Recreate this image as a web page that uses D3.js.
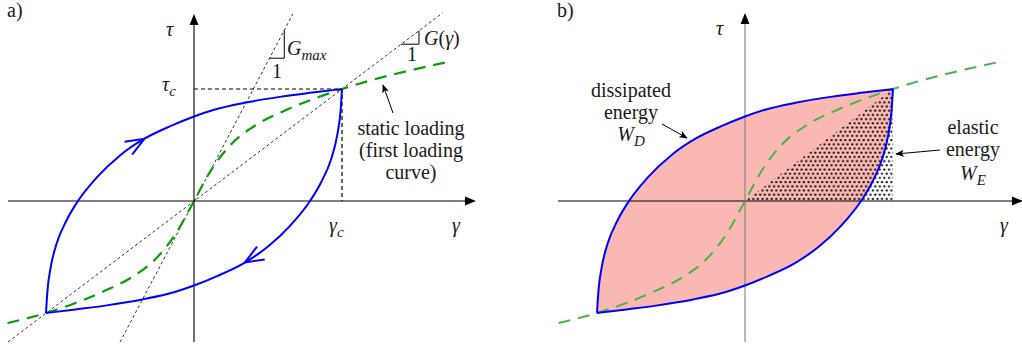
<!DOCTYPE html>
<html>
<head>
<meta charset="utf-8">
<script src="https://cdn.jsdelivr.net/npm/d3@7"></script>
<style>
body { margin: 0; background: #fff; }
text { font-family: "Liberation Serif", "DejaVu Serif", serif; fill: #1a1a1a; font-size: 20px; }
</style>
</head>
<body>
<div id="container"></div>
<script>
// hysteresis loop, normalised: gamma / gamma_c, tau / tau_c
const loadGamma = [-1, -0.99, -0.968, -0.928, -0.86, -0.784, -0.655, -0.5, -0.335, -0.16, 0, 0.13, 0.35, 0.59, 0.8, 1];
const loadTau   = [-1, -0.8, -0.59, -0.38, -0.17, 0, 0.213, 0.407, 0.556, 0.668, 0.755, 0.813, 0.879, 0.932, 0.968, 1];
const unloadGamma = [1, 0.99, 0.968, 0.928, 0.86, 0.784, 0.655, 0.5, 0.335, 0.16, 0, -0.13, -0.35, -0.59, -0.8, -1];
const unloadTau   = [1, 0.8, 0.59, 0.38, 0.17, 0, -0.213, -0.407, -0.556, -0.668, -0.755, -0.813, -0.879, -0.932, -0.968, -1];

// first loading (backbone) curve
const backboneGamma = [-1.26, -1, -0.8, -0.6, -0.42, -0.25, -0.12, 0, 0.12, 0.25, 0.42, 0.6, 0.8, 1, 1.71];
const backboneTau   = [-1.09, -1, -0.91, -0.8, -0.68, -0.505, -0.285, 0, 0.285, 0.505, 0.68, 0.8, 0.908, 1, 1.24];

// G_max tangent and G(gamma) secant
const gmaxGamma = [-0.5, 0.668];
const gmaxTau   = [-1.26, 1.67];
const secGamma  = [-1.257, 1.68];
const secTau    = [-1.259, 1.68];

// slope triangles
const gmaxTriGamma = [0.51, 0.61, 0.61];
const gmaxTriTau   = [1.275, 1.275, 1.525];
const secTriGamma  = [1.4, 1.52, 1.52];
const secTriTau    = [1.4, 1.4, 1.52];

// direction arrows on the loop (gamma positions)
const arrowLoad = -0.335, arrowUnload = 0.345;

// elastic energy triangle
const elasticGamma = [0, 1, 1];
const elasticTau   = [0, 1, 0];

const W = 1022, H = 347;

const svg = d3.select('#container')
    .append('svg')
        .attr('width', W)
        .attr('height', H);

const defs = svg.append('defs');

defs.append('marker')
    .attr('id', 'tip')
    .attr('viewBox', '0 0 10 8')
    .attr('refX', 9)
    .attr('refY', 4)
    .attr('markerWidth', 9)
    .attr('markerHeight', 7)
    .attr('markerUnits', 'userSpaceOnUse')
    .attr('orient', 'auto')
    .append('path')
    .attr('d', 'M0,0 L10,4 L0,8 L2.5,4 z')
    .attr('fill', '#000');

const dots = defs.append('pattern')
    .attr('id', 'dots')
    .attr('patternUnits', 'userSpaceOnUse')
    .attr('width', 4.6)
    .attr('height', 8.4);
dots.append('circle').attr('cx', 1.2).attr('cy', 1.5).attr('r', 1.15).attr('fill', '#000');
dots.append('circle').attr('cx', 3.5).attr('cy', 5.7).attr('r', 1.15).attr('fill', '#000');

const zip = (a, b) => a.map((v, i) => [v, b[i]]);

const panels = [
    {
        x: d3.scaleLinear().domain([-1, 1]).range([46, 342]),
        y: d3.scaleLinear().domain([-1, 1]).range([313, 89]),
        xExt: [-1.257, 1.905], yExt: [-1.259, 1.67],
        green: '#0a9e0a', yAxisColor: '#000'
    },
    {
        x: d3.scaleLinear().domain([-1, 1]).range([597, 893]),
        y: d3.scaleLinear().domain([-1, 1]).range([313, 89]),
        xExt: [-1.264, 1.878], yExt: [-1.259, 1.679],
        green: '#4cb34c', yAxisColor: '#808080'
    }
];

function axisArrow(g, x, y, dir) {
    const L = 11, w = 4.5;
    const pts = dir === 'r'
        ? [[x, y], [x - L, y - w], [x - L, y + w]]
        : [[x, y], [x - w, y + L], [x + w, y + L]];
    g.append('path').attr('d', 'M' + pts.join('L') + 'Z').attr('fill', '#000');
}

function drawAxes(g, p) {
    const x0 = p.x(0), y0 = p.y(0);
    g.append('line')
        .attr('x1', p.x(p.xExt[0])).attr('x2', p.x(p.xExt[1]) - 8)
        .attr('y1', y0).attr('y2', y0)
        .attr('stroke', '#000').attr('stroke-width', 1);
    axisArrow(g, p.x(p.xExt[1]), y0, 'r');
    g.append('line')
        .attr('x1', x0).attr('x2', x0)
        .attr('y1', p.y(p.yExt[0])).attr('y2', p.y(p.yExt[1]) + 8)
        .attr('stroke', p.yAxisColor).attr('stroke-width', 1.1);
    axisArrow(g, x0, p.y(p.yExt[1]), 'u');
}

function lineGen(p, curve) {
    return d3.line().x(d => p.x(d[0])).y(d => p.y(d[1])).curve(curve || d3.curveLinear);
}

function mathText(g, x, y, parts, anchor) {
    const t = g.append('text')
        .attr('x', x).attr('y', y)
        .attr('text-anchor', anchor || 'start');
    parts.forEach(part => {
        const ts = t.append('tspan').text(part.t);
        if (part.i) ts.style('font-style', 'italic');
        if (part.sub) ts.attr('dy', 5).style('font-size', '15px');
    });
    return t;
}

function loopArrow(g, path, p, gamma) {
    const node = path.node();
    const total = node.getTotalLength();
    const target = p.x(gamma);
    let best = 0, bestD = Infinity;
    for (let l = 0; l <= total; l += 0.5) {
        const pt = node.getPointAtLength(l);
        const d = Math.abs(pt.x - target);
        if (d < bestD) { bestD = d; best = l; }
    }
    const a = node.getPointAtLength(Math.max(0, best - 2));
    const b = node.getPointAtLength(Math.min(total, best + 2));
    const tip = node.getPointAtLength(best);
    const ang = Math.atan2(b.y - a.y, b.x - a.x);
    const L = 20, th = 22 * Math.PI / 180;
    const arm = s => [tip.x - L * Math.cos(ang + s * th), tip.y - L * Math.sin(ang + s * th)];
    const p1 = arm(1), p2 = arm(-1);
    g.append('path')
        .attr('d', `M${p1[0]},${p1[1]}L${tip.x},${tip.y}L${p2[0]},${p2[1]}`)
        .attr('fill', 'none')
        .attr('stroke', '#0000ff')
        .attr('stroke-width', 2);
}

const loadPts = zip(loadGamma, loadTau);
const unloadPts = zip(unloadGamma, unloadTau);
const backbonePts = zip(backboneGamma, backboneTau);

// ---------- panel a ----------
(function () {
    const p = panels[0];
    const g = svg.append('g');
    const line = lineGen(p);
    const smooth = lineGen(p, d3.curveMonotoneX);

    drawAxes(g, p);

    [[gmaxGamma, gmaxTau], [secGamma, secTau]].forEach(l => {
        g.append('path')
            .attr('d', line(zip(l[0], l[1])))
            .attr('stroke', '#000').attr('stroke-width', 0.8)
            .attr('stroke-dasharray', '3,2.5').attr('fill', 'none');
    });

    g.append('path')
        .attr('d', line([[0, 1], [1, 1], [1, 0]]))
        .attr('stroke', '#000').attr('stroke-width', 1.2)
        .attr('stroke-dasharray', '4,3').attr('fill', 'none');

    [[gmaxTriGamma, gmaxTriTau], [secTriGamma, secTriTau]].forEach(t => {
        g.append('path')
            .attr('d', line(zip(t[0], t[1])))
            .attr('stroke', '#000').attr('stroke-width', 1).attr('fill', 'none');
    });

    g.append('path')
        .attr('d', smooth(backbonePts))
        .attr('stroke', p.green).attr('stroke-width', 2.2)
        .attr('stroke-dasharray', '12,8').attr('fill', 'none');

    const up = g.append('path')
        .attr('d', smooth(loadPts))
        .attr('stroke', '#0000ff').attr('stroke-width', 2).attr('fill', 'none');
    const down = g.append('path')
        .attr('d', smooth(unloadPts))
        .attr('stroke', '#0000ff').attr('stroke-width', 2).attr('fill', 'none');
    loopArrow(g, up, p, arrowLoad);
    loopArrow(g, down, p, arrowUnload);

    g.append('text').attr('x', 7).attr('y', 17).text('a)');
    mathText(g, 166, 36, [{ t: 'τ', i: 1 }]);
    mathText(g, 162, 91, [{ t: 'τ', i: 1 }, { t: 'c', i: 1, sub: 1 }]);
    mathText(g, 329, 232, [{ t: 'γ', i: 1 }, { t: 'c', i: 1, sub: 1 }]);
    mathText(g, 452, 232, [{ t: 'γ', i: 1 }]);
    mathText(g, 287, 55, [{ t: 'G', i: 1 }, { t: 'max', i: 1, sub: 1 }]);
    g.append('text').attr('x', 277).attr('y', 78).attr('text-anchor', 'middle').text('1');
    mathText(g, 424, 45, [{ t: 'G', i: 1 }, { t: '(' }, { t: 'γ', i: 1 }, { t: ')' }]);
    g.append('text').attr('x', 412).attr('y', 61).attr('text-anchor', 'middle').text('1');

    ['static loading', '(first loading', 'curve)'].forEach((s, i) => {
        g.append('text').attr('x', 411).attr('y', 135 + i * 22)
            .attr('text-anchor', 'middle').text(s);
    });
    g.append('line')
        .attr('x1', 393).attr('y1', 113).attr('x2', 383).attr('y2', 85)
        .attr('stroke', '#000').attr('stroke-width', 1)
        .attr('marker-end', 'url(#tip)');
})();

// ---------- panel b ----------
(function () {
    const p = panels[1];
    const g = svg.append('g');
    const line = lineGen(p);
    const smooth = lineGen(p, d3.curveMonotoneX);

    g.append('path')
        .attr('d', smooth(loadPts) + 'L' + smooth(unloadPts).slice(1) + 'Z')
        .attr('fill', '#f9b8b1').attr('stroke', 'none');

    g.append('path')
        .attr('d', line(zip(elasticGamma, elasticTau)) + 'Z')
        .attr('fill', 'url(#dots)');

    drawAxes(g, p);

    g.append('path')
        .attr('d', smooth(backbonePts))
        .attr('stroke', p.green).attr('stroke-width', 2)
        .attr('stroke-dasharray', '12,8').attr('fill', 'none');

    g.append('path')
        .attr('d', smooth(loadPts))
        .attr('stroke', '#0000ff').attr('stroke-width', 2).attr('fill', 'none');
    g.append('path')
        .attr('d', smooth(unloadPts))
        .attr('stroke', '#0000ff').attr('stroke-width', 2).attr('fill', 'none');

    g.append('text').attr('x', 557).attr('y', 17).text('b)');
    mathText(g, 716, 35, [{ t: 'τ', i: 1 }]);
    mathText(g, 1000, 232, [{ t: 'γ', i: 1 }]);

    ['dissipated', 'energy'].forEach((s, i) => {
        g.append('text').attr('x', 631).attr('y', 97 + i * 22)
            .attr('text-anchor', 'middle').text(s);
    });
    mathText(g, 631, 141, [{ t: 'W', i: 1 }, { t: 'D', i: 1, sub: 1 }], 'middle');
    g.append('line')
        .attr('x1', 662).attr('y1', 124).attr('x2', 687).attr('y2', 138)
        .attr('stroke', '#000').attr('stroke-width', 1)
        .attr('marker-end', 'url(#tip)');

    ['elastic', 'energy'].forEach((s, i) => {
        g.append('text').attr('x', 973).attr('y', 134 + i * 22)
            .attr('text-anchor', 'middle').text(s);
    });
    mathText(g, 973, 180, [{ t: 'W', i: 1 }, { t: 'E', i: 1, sub: 1 }], 'middle');
    g.append('line')
        .attr('x1', 940).attr('y1', 150).attr('x2', 896).attr('y2', 154)
        .attr('stroke', '#000').attr('stroke-width', 1)
        .attr('marker-end', 'url(#tip)');
})();
</script>
</body>
</html>
